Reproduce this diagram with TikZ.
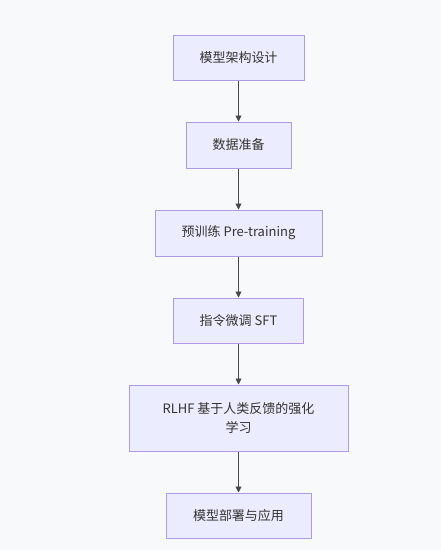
\documentclass[tikz,border=0pt]{standalone}
\usepackage{fontspec}
\setmainfont{Noto Sans CJK SC}
\usetikzlibrary{arrows.meta}
\definecolor{bg}{HTML}{F8F9FA}
\definecolor{nodefill}{HTML}{ECECFF}
\definecolor{nodedraw}{HTML}{B09AE4}
\definecolor{txt}{HTML}{333333}
\tikzset{
  flowbox/.style={draw=nodedraw, fill=nodefill, line width=1pt, rectangle, inner sep=0pt,
    text=txt, font=\fontsize{13}{19}\selectfont, align=center},
  flowarrow/.style={draw=txt!90, line width=0.9pt, -{Triangle[length=6pt,width=6pt]}}
}
\begin{document}
\begin{tikzpicture}[x=1pt,y=-1pt]
\fill[bg] (0,0) rectangle (441,550);
\useasboundingbox (0,0) rectangle (441,550);
\node[flowbox, minimum width=131pt, minimum height=45pt] (n1) at (238.5,57.5) {模型架构设计};
\node[flowbox, minimum width=105pt, minimum height=46pt] (n2) at (238.5,145) {数据准备};
\node[flowbox, minimum width=167pt, minimum height=46pt] (n3) at (238.5,233) {预训练 Pre-training};
\node[flowbox, minimum width=130pt, minimum height=45pt] (n4) at (238.5,320.5) {指令微调 SFT};
\node[flowbox, minimum width=219pt, minimum height=66pt] (n5) at (238.5,418) {RLHF 基于人类反馈的强化\\学习};
\node[flowbox, minimum width=145pt, minimum height=45pt] (n6) at (238.5,515.5) {模型部署与应用};
\draw[flowarrow] (n1) -- (n2);
\draw[flowarrow] (n2) -- (n3);
\draw[flowarrow] (n3) -- (n4);
\draw[flowarrow] (n4) -- (n5);
\draw[flowarrow] (n5) -- (n6);
\end{tikzpicture}
\end{document}
